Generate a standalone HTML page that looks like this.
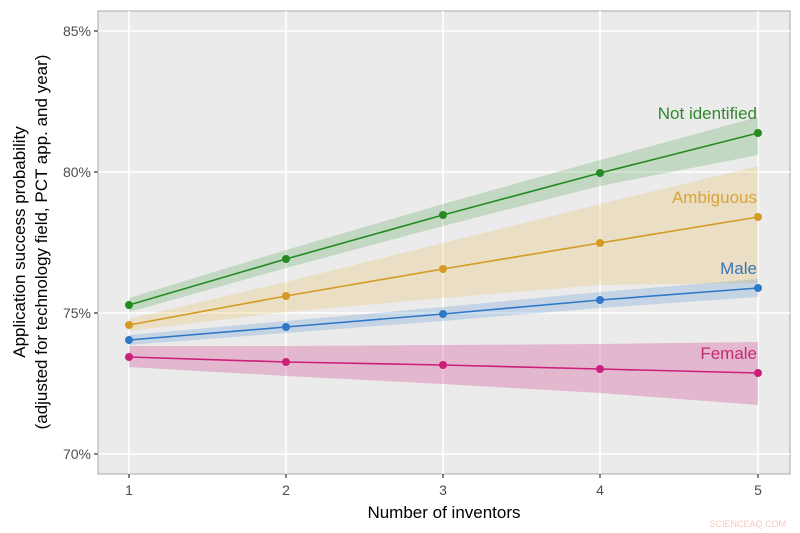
<!DOCTYPE html>
<html><head><meta charset="utf-8"><style>body{margin:0;background:#fff}svg{display:block}text{font-family:"Liberation Sans",sans-serif}</style></head><body>
<svg width="800" height="533" viewBox="0 0 800 533">
<rect x="98" y="11" width="692" height="463" fill="#ebebeb" stroke="#a8a8a8" stroke-width="1"/>
<g stroke="#fff" stroke-width="1.6">
<line x1="98" x2="790" y1="31" y2="31"/><line x1="98" x2="790" y1="172" y2="172"/><line x1="98" x2="790" y1="313" y2="313"/><line x1="98" x2="790" y1="454" y2="454"/>
<line x1="129" x2="129" y1="11" y2="474"/><line x1="286" x2="286" y1="11" y2="474"/><line x1="443" x2="443" y1="11" y2="474"/><line x1="600" x2="600" y1="11" y2="474"/><line x1="758" x2="758" y1="11" y2="474"/>
</g>
<polygon points="129,298 286,250 443,204 600,160 758,117 758,155 600,186 443,226 286,268 129,312" fill="#228b22" opacity="0.2"/>
<polygon points="129,319 286,282 443,243 600,204 758,166 758,283 600,285 443,298 286,312 129,331" fill="#e6a82a" opacity="0.2"/>
<polygon points="129,335 286,321 443,307 600,292 758,279 758,297 600,308 443,321 286,333 129,345" fill="#2f78c8" opacity="0.2"/>
<polygon points="129,346 286,346 443,345 600,344 758,342 758,405 600,393 443,384 286,376 129,367" fill="#cc1f7a" opacity="0.25"/>
<g stroke-width="1.6" fill="none">
<polyline points="129,305 286,259 443,215 600,173 758,133" stroke="#228b22"/>
<polyline points="129,325 286,296 443,269 600,243 758,217" stroke="#d49a22"/>
<polyline points="129,340 286,327 443,314 600,300 758,288" stroke="#2f78c8"/>
<polyline points="129,357 286,362 443,365 600,369 758,373" stroke="#cc1f7a"/>
</g>
<g fill="#228b22"><circle cx="129" cy="305" r="4"/><circle cx="286" cy="259" r="4"/><circle cx="443" cy="215" r="4"/><circle cx="600" cy="173" r="4"/><circle cx="758" cy="133" r="4"/></g>
<g fill="#d49a22"><circle cx="129" cy="325" r="4"/><circle cx="286" cy="296" r="4"/><circle cx="443" cy="269" r="4"/><circle cx="600" cy="243" r="4"/><circle cx="758" cy="217" r="4"/></g>
<g fill="#2f78c8"><circle cx="129" cy="340" r="4"/><circle cx="286" cy="327" r="4"/><circle cx="443" cy="314" r="4"/><circle cx="600" cy="300" r="4"/><circle cx="758" cy="288" r="4"/></g>
<g fill="#cc1f7a"><circle cx="129" cy="357" r="4"/><circle cx="286" cy="362" r="4"/><circle cx="443" cy="365" r="4"/><circle cx="600" cy="369" r="4"/><circle cx="758" cy="373" r="4"/></g>
<g font-size="17" text-anchor="end">
<text x="757" y="119" fill="#2f8a2f">Not identified</text>
<text x="757" y="203" fill="#d9a53a">Ambiguous</text>
<text x="757" y="274" fill="#3a74b8">Male</text>
<text x="757" y="359" fill="#c42a72">Female</text>
</g>
<g stroke="#333" stroke-width="1.2">
<line x1="94" x2="98" y1="31" y2="31"/><line x1="94" x2="98" y1="172" y2="172"/><line x1="94" x2="98" y1="313" y2="313"/><line x1="94" x2="98" y1="454" y2="454"/>
<line x1="129" x2="129" y1="474" y2="478"/><line x1="286" x2="286" y1="474" y2="478"/><line x1="443" x2="443" y1="474" y2="478"/><line x1="600" x2="600" y1="474" y2="478"/><line x1="758" x2="758" y1="474" y2="478"/>
</g>
<g font-size="14" fill="#4d4d4d" text-anchor="end">
<text x="91" y="36">85%</text><text x="91" y="177">80%</text><text x="91" y="318">75%</text><text x="91" y="459">70%</text>
</g>
<g font-size="14" fill="#4d4d4d" text-anchor="middle">
<text x="129" y="495">1</text><text x="286" y="495">2</text><text x="443" y="495">3</text><text x="600" y="495">4</text><text x="758" y="495">5</text>
</g>
<text x="444" y="518" font-size="17" text-anchor="middle" fill="#000">Number of inventors</text>
<g font-size="17" text-anchor="middle" fill="#000">
<text transform="translate(25,242) rotate(-90)">Application success probability</text>
<text transform="translate(47,242) rotate(-90)">(adjusted for technology field, PCT app. and year)</text>
</g>
<text x="786" y="527" font-size="9" text-anchor="end" fill="#f3c9c0">SCIENCEAQ.COM</text>
</svg>
</body></html>
